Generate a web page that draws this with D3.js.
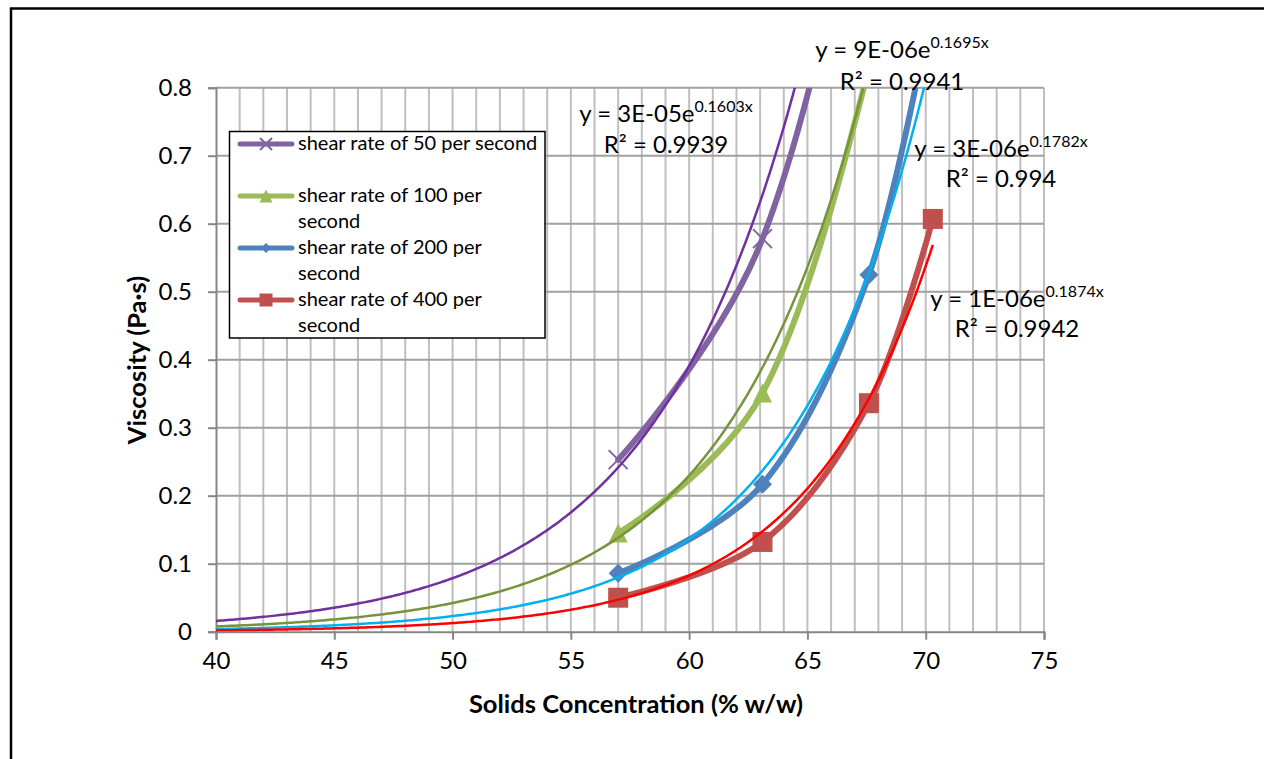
<!DOCTYPE html>
<html lang="en">
<head>
    <meta charset="UTF-8">
    <title>Viscosity vs solids concentration</title>
    <style>
        body { margin: 0; background: #fff; }
        text { font-family: Lato, "Open Sans", sans-serif; fill: #000; }
    </style>
</head>
<body>
    <div id="chart"></div>
    <script src="https://d3js.org/d3.v7.min.js"></script>
    <script>
        // measured concentrations (% w/w)
        var solids = [57, 63.1, 67.6, 70.3];

        // viscosity (Pa.s) per shear rate, values above 0.8 are off the chart and guessed
        var rate50 = [0.253, 0.578, 1.2, 1.9];
        var rate100 = [0.145, 0.351, 0.83, 1.35];
        var rate200 = [0.086, 0.217, 0.525, 0.93];
        var rate400 = [0.05, 0.132, 0.336, 0.607];

        var seriesNames = ["shear rate of 50 per second", "shear rate of 100 per second",
            "shear rate of 200 per second", "shear rate of 400 per second"];

        // exponential trendlines y = a * e^(b x)
        var trendA = [2.6e-5, 8.8e-6, 3.1e-6, 1.08e-6];
        var trendB = [0.1603, 0.1695, 0.1782, 0.1874];
        var trendLabels = ["3E-05", "9E-06", "3E-06", "1E-06"];
        var trendR2 = ["0.9939", "0.9941", "0.994", "0.9942"];
        var trendStart = 40;

        var xTicks = [40, 45, 50, 55, 60, 65, 70, 75];
        var yTicks = [0, 0.1, 0.2, 0.3, 0.4, 0.5, 0.6, 0.7, 0.8];

        var lineColors = ["#8064a2", "#9bbb59", "#4f81bd", "#c0504d"];
        var trendColors = ["#7030a0", "#77933c", "#00b0f0", "#ff0000"];
        var markerTypes = ["x", "triangle", "diamond", "square"];

        var W = 1264, H = 759;
        var margin = {top: 87.7, right: 220, bottom: 127.3, left: 216},
            width = W - margin.left - margin.right,
            height = H - margin.top - margin.bottom;

        var svg = d3.select('#chart')
            .append('svg')
                .attr('width', W)
                .attr('height', H);

        // outer chart border
        svg.append('rect')
            .attr('x', 11).attr('y', 8.5)
            .attr('width', W + 20).attr('height', H + 20)
            .attr('fill', 'none')
            .attr('stroke', '#000')
            .attr('stroke-width', 2.5);

        var g = svg.append('g')
            .attr('transform', 'translate(' + margin.left + ',' + margin.top + ')');

        var x = d3.scaleLinear().domain([40, 75]).range([0, width]);
        var y = d3.scaleLinear().domain([0, 0.8]).range([height, 0]);

        // vertical grid, every unit
        g.append('g')
            .selectAll('line')
            .data(d3.range(41, 76, 1))
            .enter().append('line')
                .attr('x1', d => x(d)).attr('x2', d => x(d))
                .attr('y1', 0).attr('y2', height)
                .attr('stroke', '#bfbfbf')
                .attr('stroke-width', 2);

        // horizontal grid
        g.append('g')
            .selectAll('line')
            .data(yTicks.slice(1))
            .enter().append('line')
                .attr('x1', 0).attr('x2', width)
                .attr('y1', d => y(d)).attr('y2', d => y(d))
                .attr('stroke', '#a0a0a0')
                .attr('stroke-width', 2);

        var yAxis = g.append('g')
            .call(d3.axisLeft(y).tickValues(yTicks).tickSize(8).tickPadding(16)
                .tickFormat(d => d === 0 ? '0' : d3.format('.1f')(d)));
        var xAxis = g.append('g')
            .attr('transform', 'translate(0,' + height + ')')
            .call(d3.axisBottom(x).tickValues(xTicks).tickSize(8).tickPadding(12));

        [yAxis, xAxis].forEach(function(ax) {
            ax.select('.domain').attr('stroke', '#868686').attr('stroke-width', 2);
            ax.selectAll('.tick line').attr('stroke', '#868686').attr('stroke-width', 2);
            ax.selectAll('.tick text').style('font-size', '24px').attr('fill', '#000');
        });

        g.append('clipPath').attr('id', 'plot-clip')
            .append('rect').attr('width', width).attr('height', height);

        var plot = g.append('g').attr('clip-path', 'url(#plot-clip)');

        var allSeries = [rate50, rate100, rate200, rate400];

        var line = d3.line()
            .x(d => x(d[0]))
            .y(d => y(d[1]))
            .curve(d3.curveCardinal);

        function drawMarker(sel, type, size, color) {
            var h = size / 2;
            if (type === 'x') {
                sel.append('path')
                    .attr('d', 'M' + (-h) + ',' + (-h) + 'L' + h + ',' + h + 'M' + (-h) + ',' + h + 'L' + h + ',' + (-h))
                    .attr('stroke', color).attr('stroke-width', 2).attr('fill', 'none');
            } else if (type === 'triangle') {
                sel.append('path')
                    .attr('d', 'M0,' + (-h) + 'L' + h + ',' + h + 'L' + (-h) + ',' + h + 'Z')
                    .attr('fill', color);
            } else if (type === 'diamond') {
                sel.append('path')
                    .attr('d', 'M0,' + (-h) + 'L' + h + ',0L0,' + h + 'L' + (-h) + ',0Z')
                    .attr('fill', color);
            } else {
                sel.append('rect')
                    .attr('x', -h).attr('y', -h).attr('width', size).attr('height', size)
                    .attr('fill', color);
            }
        }

        allSeries.forEach(function(vals, i) {
            var pts = solids.map((s, j) => [s, vals[j]]);
            plot.append('path')
                .attr('d', line(pts))
                .attr('fill', 'none')
                .attr('stroke', lineColors[i])
                .attr('stroke-width', 6)
                .attr('stroke-linecap', 'round');

            pts.filter(p => p[1] <= 0.8).forEach(function(p) {
                var m = plot.append('g')
                    .attr('transform', 'translate(' + x(p[0]) + ',' + y(p[1]) + ')');
                drawMarker(m, markerTypes[i], i === 3 ? 20 : 19, lineColors[i]);
            });
        });

        // trendlines
        allSeries.forEach(function(vals, i) {
            var xs = d3.range(trendStart, solids[solids.length - 1] + 0.001, 0.1);
            var trendLine = d3.line()
                .x(d => x(d))
                .y(d => y(trendA[i] * Math.exp(trendB[i] * d)));
            plot.append('path')
                .attr('d', trendLine(xs))
                .attr('fill', 'none')
                .attr('stroke', trendColors[i])
                .attr('stroke-width', 2.5);
        });

        // trendline equations
        var labelPos = [[666, 122, 153], [902, 58, 90], [1001, 157, 187], [1017, 307, 337]];
        labelPos.forEach(function(p, i) {
            var t = svg.append('text')
                .attr('x', p[0]).attr('y', p[1])
                .attr('text-anchor', 'middle')
                .style('font-size', '24px');
            t.append('tspan').text('y = ' + trendLabels[i] + 'e');
            t.append('tspan').attr('dy', -10).style('font-size', '16px').text(trendB[i] + 'x');
            svg.append('text')
                .attr('x', p[0]).attr('y', p[2])
                .attr('text-anchor', 'middle')
                .style('font-size', '24px')
                .text('R² = ' + trendR2[i]);
        });

        // legend
        var legend = svg.append('g');
        legend.append('rect')
            .attr('x', 229.5).attr('y', 131.5)
            .attr('width', 315.5).attr('height', 206.5)
            .attr('fill', '#fff')
            .attr('stroke', '#000')
            .attr('stroke-width', 1.5);

        var legendY = [144, 196, 248, 300];
        var legendMarker = [12, 13, 10, 13];
        seriesNames.forEach(function(name, i) {
            var row = legend.append('g').attr('transform', 'translate(0,' + legendY[i] + ')');
            row.append('line')
                .attr('x1', 240).attr('x2', 292)
                .attr('stroke', lineColors[i])
                .attr('stroke-width', 5)
                .attr('stroke-linecap', 'round');
            var m = row.append('g').attr('transform', 'translate(266,0)');
            drawMarker(m, markerTypes[i], legendMarker[i], lineColors[i]);
            var txt = row.append('text')
                .attr('x', 298).attr('y', 6)
                .style('font-size', '20px');
            if (i === 0) {
                txt.text(name);
            } else {
                var parts = name.split(' ');
                txt.append('tspan').attr('x', 298).text(parts.slice(0, 5).join(' '));
                txt.append('tspan').attr('x', 298).attr('dy', 26).text(parts.slice(5).join(' '));
            }
        });

        // axis titles
        svg.append('text')
            .attr('x', 636).attr('y', 713)
            .attr('text-anchor', 'middle')
            .style('font-size', '25.5px')
            .style('font-weight', 'bold')
            .text('Solids Concentration (% w/w)');

        svg.append('text')
            .attr('transform', 'translate(146,360) rotate(-90)')
            .attr('text-anchor', 'middle')
            .style('font-size', '25.5px')
            .style('font-weight', 'bold')
            .text('Viscosity (Pa·s)');
    </script>
</body>
</html>
